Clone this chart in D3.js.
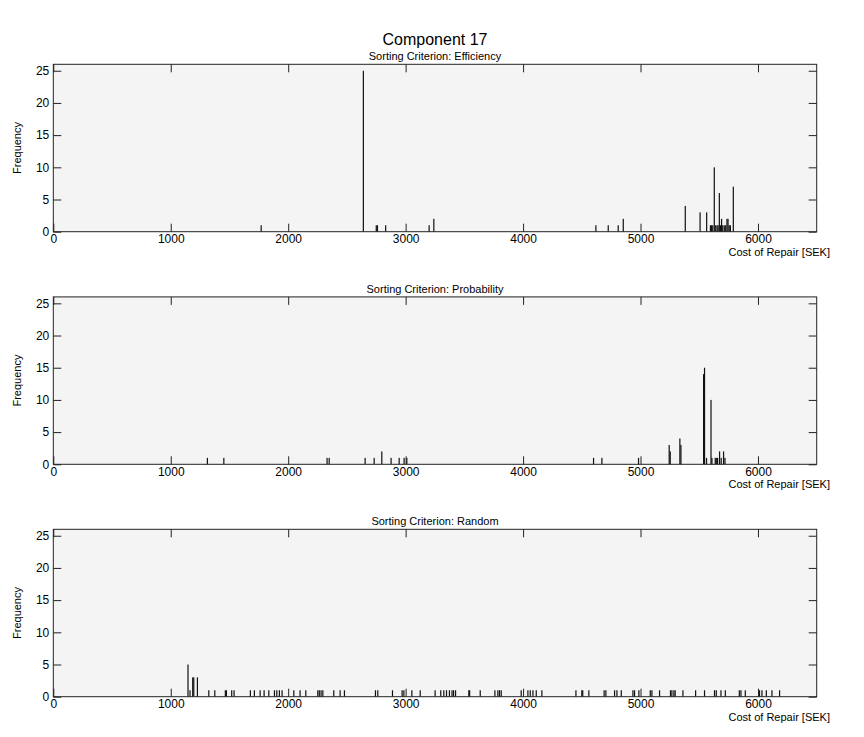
<!DOCTYPE html>
<html>
<head>
<meta charset="utf-8">
<script src="https://cdn.jsdelivr.net/npm/d3@7"></script>
<style>
  body { margin: 0; background: #fff; }
  svg text { font-family: "Liberation Sans", Arial, sans-serif; fill: #000; }
</style>
</head>
<body>
<div id="chart"></div>
<script>
// Panel data (cost in SEK, frequency)
const effCost = [1770, 2640, 2750, 2760, 2830, 3200, 3240, 4620, 4725, 4810, 4853, 5381, 5507, 5563, 5595, 5605, 5615, 5628, 5640, 5652, 5660, 5671, 5680, 5690, 5700, 5713, 5725, 5736, 5745, 5755, 5765, 5790];
const effFreq = [1, 25, 1, 1, 1, 1, 2, 1, 1, 1, 2, 4, 3, 3, 1, 1, 1, 10, 1, 1, 1, 6, 1, 2, 1, 1, 1, 2, 2, 1, 1, 7];

const probCost = [1312, 1452, 2331, 2349, 2655, 2732, 2797, 2876, 2945, 2987, 3010, 4600, 4671, 4983, 5244, 5253, 5335, 5344, 5537, 5545, 5562, 5600, 5608, 5636, 5645, 5656, 5673, 5687, 5707, 5719];
const probFreq = [1, 1, 1, 1, 1, 1, 2, 1, 1, 1, 1, 1, 1, 1, 3, 2, 4, 3, 14, 15, 1, 10, 1, 1, 1, 1, 2, 1, 2, 1];

const randCost = [1147, 1164, 1187, 1196, 1227, 1324, 1375, 1465, 1474, 1519, 1539, 1678, 1712, 1761, 1795, 1835, 1883, 1903, 1925, 1948, 2048, 2101, 2150, 2252, 2265, 2280, 2295, 2388, 2442, 2479, 2743, 2763, 2888, 2970, 2985, 3053, 3124, 3251, 3299, 3325, 3348, 3373, 3395, 3408, 3425, 3538, 3545, 3635, 3760, 3785, 3799, 3814, 3984, 4041, 4061, 4084, 4112, 4160, 4450, 4500, 4508, 4560, 4690, 4705, 4779, 4799, 4836, 4935, 4949, 4986, 5083, 5097, 5162, 5255, 5267, 5284, 5295, 5361, 5469, 5545, 5630, 5645, 5685, 5722, 5841, 5855, 5892, 6013, 6034, 6071, 6119, 6184];
const randFreq = [5, 1, 3, 3, 3, 1, 1, 1, 1, 1, 1, 1, 1, 1, 1, 1, 1, 1, 1, 1, 1, 1, 1, 1, 1, 1, 1, 1, 1, 1, 1, 1, 1, 1, 1, 1, 1, 1, 1, 1, 1, 1, 1, 1, 1, 1, 1, 1, 1, 1, 1, 1, 1, 1, 1, 1, 1, 1, 1, 1, 1, 1, 1, 1, 1, 1, 1, 1, 1, 1, 1, 1, 1, 1, 1, 1, 1, 1, 1, 1, 1, 1, 1, 1, 1, 1, 1, 1, 1, 1, 1, 1];

const panelTitles = ["Sorting Criterion: Efficiency", "Sorting Criterion: Probability", "Sorting Criterion: Random"];
const xTicks = [0, 1000, 2000, 3000, 4000, 5000, 6000];
const yTicks = [0, 5, 10, 15, 20, 25];

const width = 864, height = 737;
const left = 53.3, right = 816.7;
const panelH = 167.4;
const panelTops = [64.3, 296.9, 529.3];
const tickLen = 8;

const svg = d3.select("#chart").append("svg")
  .attr("width", width)
  .attr("height", height);

svg.append("rect").attr("width", width).attr("height", height).attr("fill", "#fff");

svg.append("text")
  .attr("x", (left + right) / 2)
  .attr("y", 45)
  .attr("text-anchor", "middle")
  .attr("font-size", "16px")
  .text("Component 17");

const x = d3.scaleLinear().domain([0, 6500]).range([left, right]);

const panels = [
  { cost: effCost, freq: effFreq },
  { cost: probCost, freq: probFreq },
  { cost: randCost, freq: randFreq }
];

panels.forEach(function(p, i) {
  const top = panelTops[i], bottom = top + panelH;
  const y = d3.scaleLinear().domain([0, 26]).range([bottom, top]);
  const g = svg.append("g");

  // axes face
  g.append("rect")
    .attr("x", left).attr("y", top)
    .attr("width", right - left).attr("height", panelH)
    .attr("fill", "#f4f4f4");

  // bars
  g.selectAll("rect.bar")
    .data(d3.zip(p.cost, p.freq))
    .enter().append("rect")
    .attr("class", "bar")
    .attr("x", d => x(d[0]) - 0.6)
    .attr("width", 1.2)
    .attr("y", d => y(d[1]))
    .attr("height", d => bottom - y(d[1]))
    .attr("fill", "#111");

  // ticks pointing inward on all four sides
  const xAxis = g.append("g")
    .attr("transform", "translate(0," + bottom + ")")
    .call(d3.axisBottom(x).tickValues(xTicks).tickSize(-tickLen).tickPadding(3).tickFormat(d3.format("d")));
  const xTop = g.append("g")
    .attr("transform", "translate(0," + top + ")")
    .call(d3.axisTop(x).tickValues(xTicks).tickSize(-tickLen).tickFormat(""));
  const yAxis = g.append("g")
    .attr("transform", "translate(" + left + ",0)")
    .call(d3.axisLeft(y).tickValues(yTicks).tickSize(-tickLen).tickPadding(4));
  const yRight = g.append("g")
    .attr("transform", "translate(" + right + ",0)")
    .call(d3.axisRight(y).tickValues(yTicks).tickSize(-tickLen).tickFormat(""));

  [xAxis, xTop, yAxis, yRight].forEach(function(a) {
    a.select(".domain").remove();
    a.selectAll("line").attr("stroke", "#222");
    a.selectAll("text").attr("font-size", "12px").attr("font-family", "Liberation Sans, Arial, sans-serif").attr("fill", "#000");
  });

  // box
  g.append("rect")
    .attr("x", left).attr("y", top)
    .attr("width", right - left).attr("height", panelH)
    .attr("fill", "none")
    .attr("stroke", "#222")
    .attr("stroke-width", 1);

  g.append("text")
    .attr("x", (left + right) / 2)
    .attr("y", top - 4)
    .attr("text-anchor", "middle")
    .attr("font-size", "11px")
    .text(panelTitles[i]);

  g.append("text")
    .attr("x", 830)
    .attr("y", bottom + 24)
    .attr("text-anchor", "end")
    .attr("font-size", "11px")
    .text("Cost of Repair [SEK]");

  g.append("text")
    .attr("transform", "translate(21," + (top + panelH / 2) + ") rotate(-90)")
    .attr("text-anchor", "middle")
    .attr("font-size", "11px")
    .text("Frequency");
});
</script>
</body>
</html>
